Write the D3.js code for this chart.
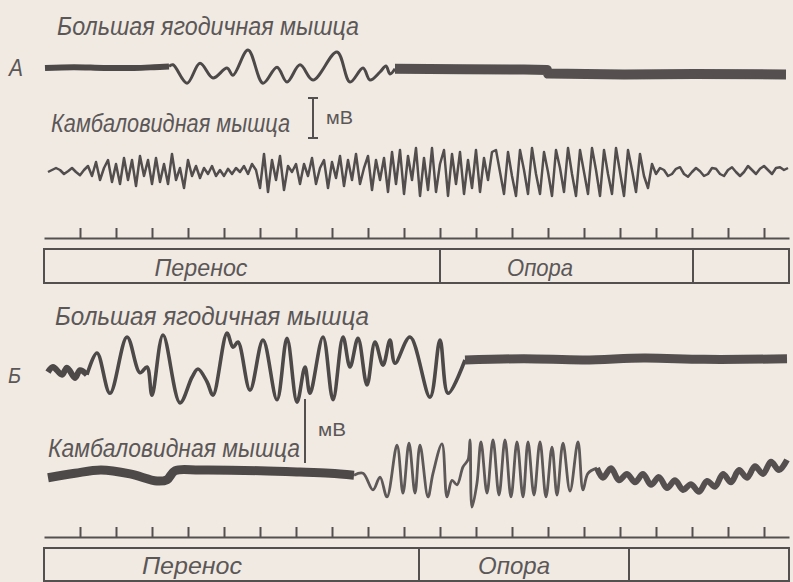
<!DOCTYPE html>
<html><head><meta charset="utf-8">
<script src="https://cdn.jsdelivr.net/npm/d3@7"></script>
<style>
html,body{margin:0;padding:0;background:#f0eae3;}
svg{display:block;}
text{font-family:"Liberation Sans","Arimo","Noto Sans",sans-serif;font-style:italic;fill:#5c5757;}
</style></head><body>
<svg id="chart" width="793" height="582"></svg>
<script>
// ---------- DATA (time in ms, amplitude in mV) ----------
const tickTimes = [36,72,108,144,180,216,252,288,324,360,396,432,468,504,540,576,612,648,684,720];

const phasesA = [["Перенос",0,396],["Опора",396,649],["",649,745]];
const phasesB = [["Перенос",0,375],["Опора",375,585],["",585,745]];

const panelLetters = ["А","Б"];
const muscleNames = ["Большая ягодичная мышца","Камбаловидная мышца"];
const unitLabel = "мВ";

// A: gluteus maximus
const glutA_rest  = [[1,0.1],[30,0.12],[60,0.1],[90,0.1],[110,0.12],[125,0.14]];
const glutA_burst = [[125,0.14],[129,0.18],[143,-0.28],[156,0.22],[169,-0.15],[183,0.1],[189,-0.08],[204,0.55],[219,-0.28],[233,0.12],[243,-0.25],[256,0.18],[269,-0.2],[293,0.5],[306,-0.25],[319,0.1],[326,-0.2],[336,0.0],[342,0.15],[346,-0.05],[351,0.08]];
const glutA_tail  = [[351,0.08],[420,0.07],[480,0.06],[503,0.05],[504,-0.04],[580,-0.06],[650,-0.05],[742,-0.06]];

// A: soleus (sampled every 4 ms from 4 ms)
const solA_start = 4, solA_step = 4;
const solA_values = [
 0,0.05,0.1,0.05,-0.05,0.02,0.1,0.0,-0.08,0.05,
 0.15,-0.1,0.25,-0.2,0.1,0.3,-0.25,0.2,
 -0.3,0.35,-0.2,0.3,-0.35,0.4,-0.1,0.3,-0.3,0.35,-0.25,0.2,-0.3,0.45,-0.2,
 0.1,-0.4,0.3,-0.1,0.15,
 -0.15,0.1,-0.05,0.15,-0.1,0.05,-0.1,0.08,-0.05,0.1,0.0,0.15,-0.05,0.2,0.05,
 -0.4,0.45,-0.5,0.3,-0.2,0.4,-0.45,0.15,0.0,0.2,
 -0.3,0.2,-0.1,0.35,-0.3,0.1,0.3,-0.4,0.25,-0.15,0.4,-0.35,0.3,-0.2,0.45,-0.3,0.1,0.4,-0.45,0.3,-0.2,0.35,
 -0.5,0.5,-0.3,0.55,-0.55,0.4,-0.2,0.6,-0.6,0.35,-0.45,0.6,-0.5,0.2,0.55,-0.6,0.45,-0.3,0.5,-0.55,0.3,-0.4,0.55,-0.5,0.35,-0.2,0.5,
 0.55,0.0,-0.55,0.5,-0.1,-0.6,0.55,0.05,-0.55,0.6,-0.05,-0.55,0.5,0.0,-0.6,0.55,0.1,-0.5,0.6,-0.05,-0.6,0.55,0.0,-0.55,0.6,0.05,-0.6,0.55,-0.05,-0.55,0.6,0.0,-0.6,0.55,0.05,-0.5,0.45,-0.1,-0.4,0.2,
 -0.05,0.1,0.05,-0.1,-0.05,0.08,0.12,-0.05,-0.12,0.0,0.1,0.02,-0.1,-0.05,0.1,0.08,-0.05,-0.1,0.05,0.12,0.0,-0.1,0.0,0.15,0.05,-0.05,0.08,0.15,0.05,-0.05,0.1,0.12,0.05,0.1
];

// B: gluteus maximus
const glutB_rest  = [[4,-0.19],[9,-0.11],[18,-0.23],[23,-0.12],[31,-0.28],[36,-0.16],[43,-0.23]];
const glutB_burst = [[43,-0.23],[53,0.11],[66,-0.52],[83,0.36],[96,-0.2],[103,-0.11],[108,-0.55],[119,0.39],[136,-0.67],[148,-0.27],[154,-0.14],[163,-0.34],[169,-0.55],[183,0.42],[189,0.2],[194,0.28],[206,-0.47],[219,0.31],[233,-0.62],[243,0.34],[253,-0.66],[261,-0.11],[266,-0.52],[279,0.36],[289,-0.62],[299,0.36],[306,-0.11],[314,0.34],[323,-0.39],[331,0.28],[339,-0.08],[346,0.31],[351,-0.05],[366,0.36],[386,-0.58],[396,0.31],[404,-0.52],[421,0.0]];
const glutB_tail  = [[421,0.0],[480,0.02],[540,0.0],[600,0.03],[660,0.01],[743,0.02]];

// B: soleus
const solB_rest  = [[4,-0.09],[31,-0.02],[57,0.03],[86,-0.03],[113,-0.14],[123,-0.12],[131,0.02],[156,0.03],[216,0.02],[256,0.0],[286,-0.02],[310,-0.05]];
const solB_burst = [[310,-0.05],[319,-0.02],[329,-0.28],[336,-0.08],[343,-0.39],[353,0.42],[359,-0.33],[365,0.45],[371,-0.33],[376,0.42],[384,-0.39],[389,-0.02],[398,0.44],[403,-0.39],[408,-0.13],[413,-0.2],[419,0.08],[424,0.19],[426,0.5],[428,-0.55],[433,-0.17],[437,0.47],[443,-0.33],[449,0.5],[455,-0.36],[461,0.5],[467,-0.39],[473,0.47],[479,-0.39],[484,0.47],[490,-0.36],[496,0.47],[502,-0.39],[508,0.39],[513,-0.36],[519,0.45],[526,-0.3],[534,0.47],[539,-0.28],[544,-0.02],[553,0.06]];
const solB_tail  = [[553,0.06],[559,-0.09],[567,0.06],[575,-0.13],[583,-0.03],[591,-0.16],[599,-0.03],[607,-0.2],[615,-0.08],[623,-0.25],[631,-0.13],[639,-0.28],[647,-0.19],[655,-0.31],[663,-0.14],[671,-0.23],[679,-0.03],[687,-0.16],[695,0.03],[703,-0.09],[711,0.09],[719,-0.03],[727,0.16],[735,0.03],[743,0.19]];

// ---------- DRAWING ----------
const svg = d3.select("#chart");
svg.append("rect").attr("width",793).attr("height",582).attr("fill","#f0eae3");
const defs = svg.append("defs");
defs.append("filter").attr("id","soft").append("feGaussianBlur").attr("stdDeviation",0.6);

const x = d3.scaleLinear().domain([0,745]).range([44,789]);
const yScale = (center, gain) => d3.scaleLinear().domain([-1,1]).range([center+gain, center-gain]);
const yGA = yScale(72,40), ySA = yScale(172,40), yGB = yScale(360,64), ySB = yScale(472,64);

const traces = svg.append("g").attr("filter","url(#soft)");
function trace(data, y, width, color, curve){
  traces.append("path").datum(data)
    .attr("d", d3.line().x(d=>x(d[0])).y(d=>y(d[1])).curve(curve||d3.curveLinear))
    .attr("fill","none").attr("stroke",color).attr("stroke-width",width)
    .attr("stroke-linejoin","round").attr("stroke-linecap","butt");
}
const cr = d3.curveCatmullRom.alpha(0.5);
// A
trace(glutA_rest, yGA, 6, "#4e4949", cr);
trace(glutA_burst, yGA, 3, "#4e4949", cr);
trace(glutA_tail, yGA, 10, "#555050", d3.curveLinear);
trace(solA_values.map((v,i)=>[solA_start+i*solA_step, v]), ySA, 2.5, "#524e4e", d3.curveLinear);
// B
trace(glutB_rest, yGB, 6, "#4e4949", cr);
trace(glutB_burst, yGB, 3.6, "#4e4949", cr);
trace(glutB_tail, yGB, 9, "#555050", cr);
trace(solB_rest, ySB, 9, "#4e4949", cr);
trace(solB_burst, ySB, 2.8, "#5e5858", cr);
trace(solB_tail, ySB, 6, "#555050", cr);

// text labels
function label(str, xx, yy, size, len, upright){
  const t = svg.append("text").attr("x",xx).attr("y",yy).attr("font-size",size).text(str);
  if(len) t.attr("textLength",len).attr("lengthAdjust","spacingAndGlyphs");
  if(upright) t.style("font-style","normal");
  return t;
}
label(muscleNames[0], 57, 35, 25, 302);
label(panelLetters[0], 9, 76, 24, 14);
label(muscleNames[1], 51, 132, 25, 239);
label(unitLabel, 326, 124, 18, 27, true);
label(muscleNames[0], 55, 325, 25, 314);
label(panelLetters[1], 8, 383, 22, 13);
label(muscleNames[1], 48, 457, 25, 252);
label(unitLabel, 318, 436, 18, 28, true);

// calibration bars (1 mV)
const barA_x = x(269), barA_bottom = 138, barA_top = barA_bottom - (yGA(0)-yGA(1));
const bars = svg.append("g").attr("stroke","#555050").attr("stroke-width",2);
bars.append("line").attr("x1",barA_x).attr("x2",barA_x).attr("y1",barA_top).attr("y2",barA_bottom);
bars.append("line").attr("x1",barA_x-5).attr("x2",barA_x+5).attr("y1",barA_top).attr("y2",barA_top);
bars.append("line").attr("x1",barA_x-5).attr("x2",barA_x+5).attr("y1",barA_bottom).attr("y2",barA_bottom);
const barB_x = x(261), barB_bottom = 463, barB_top = barB_bottom - (yGB(0)-yGB(1));
bars.append("line").attr("x1",barB_x).attr("x2",barB_x).attr("y1",barB_top).attr("y2",barB_bottom);

// time marks
function timeAxis(yPos){
  const g = svg.append("g").attr("transform",`translate(0,${yPos})`)
    .call(d3.axisTop(x).tickValues(tickTimes).tickSize(10).tickSizeOuter(0).tickFormat(""));
  g.selectAll("path.domain").attr("stroke","#555050").attr("stroke-width",2);
  g.selectAll(".tick line").attr("stroke","#555050").attr("stroke-width",2);
  g.selectAll(".tick text").remove();
}
timeAxis(238);
timeAxis(537);

// phase boxes
function phaseBox(phases, top, h, labelX, lens){
  const g = svg.append("g");
  phases.forEach((p,i)=>{
    g.append("rect").attr("x",x(p[1])).attr("y",top).attr("width",x(p[2])-x(p[1])).attr("height",h)
      .attr("fill","none").attr("stroke","#555050").attr("stroke-width",2);
    if(p[0]){
      g.append("text").attr("x",x(labelX[i])).attr("y",top+h-7).attr("text-anchor","middle")
        .attr("font-size",24).attr("textLength",lens[i]).attr("lengthAdjust","spacingAndGlyphs").text(p[0]);
    }
  });
}
phaseBox(phasesA, 249, 34, [157,496], [93,66]);
phaseBox(phasesB, 548, 33, [148,470], [100,72]);
</script>
</body></html>
